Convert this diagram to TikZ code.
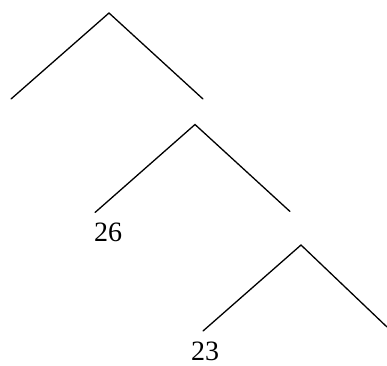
\documentclass[tikz,border=0pt]{standalone}
\usepackage{fontspec}
\setmainfont{Liberation Serif}
\tikzset{
  branch/.style={line width=1.3pt, line cap=round, line join=miter},
  leaflabel/.style={inner sep=0pt, font=\fontsize{28}{30}\selectfont}
}
\begin{document}
\begin{tikzpicture}[x=1pt, y=-1pt]
\useasboundingbox (0,0) rectangle (387,365);
% first fork
\coordinate (a1) at (109,13);
\coordinate (l1) at (11,99);
\coordinate (r1) at (203,99);
% second fork
\coordinate (a2) at (195,124.5);
\coordinate (l2) at (95,212.5);
\coordinate (r2) at (290,211.5);
% third fork
\coordinate (a3) at (301,245);
\coordinate (l3) at (203,331);
\coordinate (r3) at (387,327);
\draw[branch] (l1) -- (a1) -- (r1);
\draw[branch] (l2) -- (a2) -- (r2);
\draw[branch] (l3) -- (a3) -- (r3);
\node[leaflabel] (n26) at (108,232) {26};
\node[leaflabel] (n23) at (205,351) {23};
\end{tikzpicture}
\end{document}
